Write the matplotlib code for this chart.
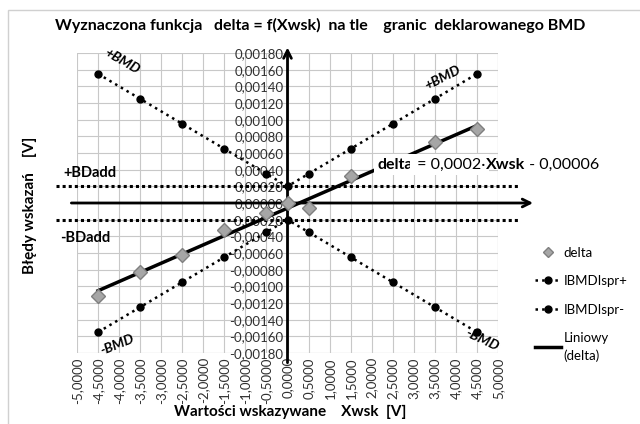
import numpy as np
import matplotlib.pyplot as plt
from matplotlib.lines import Line2D
from matplotlib.patches import Rectangle

plt.rcParams['font.family'] = ['Lato', 'DejaVu Sans']
plt.rcParams['font.size'] = 9

# data
x_bmd = [-4.5, -3.5, -2.5, -1.5, -0.5, 0.0, 0.5, 1.5, 2.5, 3.5, 4.5]
bmd_plus = [0.00155, 0.00125, 0.00095, 0.00065, 0.00035, 0.00020,
            0.00035, 0.00065, 0.00095, 0.00125, 0.00155]
bmd_minus = [-0.00155, -0.00125, -0.00095, -0.00065, -0.00035, -0.00020,
             -0.00035, -0.00065, -0.00095, -0.00125, -0.00155]
x_delta = [-4.5, -3.5, -2.5, -1.5, -0.5, 0.0, 0.5, 1.5, 2.5, 3.5, 4.5]
delta = [-0.00112, -0.00083, -0.00062, -0.00032, -0.00012, 0.00000,
         -0.00006, 0.00032, 0.00045, 0.00073, 0.00089]
bd_add = 0.0002

fig = plt.figure(figsize=(6.4, 4.24), dpi=100)
fig.patches.append(Rectangle((8 / 640, -0.01), 0.99, 1 - 10 / 424 + 0.01,
                             transform=fig.transFigure, fill=False,
                             edgecolor='#d0d0d0', linewidth=1))
ax = fig.add_axes([77 / 640, 71 / 424, 421 / 640, 300 / 424])

ax.set_xlim(-5, 5)
ax.set_ylim(-0.0018, 0.0018)
xt = np.arange(-5, 5.01, 0.5)
yt = np.arange(-0.0018, 0.00181, 0.0002)
ax.set_xticks(xt)
ax.set_xticklabels([f'{v:.4f}'.replace('.', ',') for v in xt], rotation=90)
ax.set_yticks(yt)
ax.set_yticklabels([f'{v:.5f}'.replace('.', ',').replace('-0,00000', '0,00000') for v in yt])
ax.tick_params(length=0, labelsize=9.5, pad=3, labelcolor='#303030')
ax.grid(True, color='#c8c8c8', linewidth=0.8)
ax.set_axisbelow(True)
for s in ['top', 'right', 'bottom']:
    ax.spines[s].set_visible(False)
ax.spines['left'].set_position(('data', 0))
ax.spines['left'].set_visible(False)
# keep grid box edges
ax.axhline(-0.0018, color='#c8c8c8', linewidth=0.8, zorder=0)
ax.axvline(5, color='#c8c8c8', linewidth=0.8, zorder=0)

# axis arrows
ax.annotate('', xy=(0, 0.0019), xytext=(0, -0.00195), annotation_clip=False,
            arrowprops=dict(arrowstyle='->', lw=2, color='black', mutation_scale=14))
ax.annotate('', xy=(5.9, 0), xytext=(-5.2, 0), annotation_clip=False,
            arrowprops=dict(arrowstyle='->', lw=2, color='black', mutation_scale=14))

# BDadd limits
for yv in (bd_add, -bd_add):
    ax.plot([-5.5, 5.5], [yv, yv], color='black', lw=2.2,
            linestyle=(0, (1, 1)), clip_on=False, zorder=3)

ax.plot(x_bmd, bmd_plus, ':', color='black', lw=1.8, marker='o', ms=5, zorder=4)
ax.plot(x_bmd, bmd_minus, ':', color='black', lw=1.8, marker='o', ms=5, zorder=4)

coef = np.polyfit(x_delta, delta, 1)
xl = np.array([min(x_delta), max(x_delta)])
ax.plot(xl, np.polyval(coef, xl), color='black', lw=2.5, zorder=5)
ax.plot(x_delta, delta, linestyle='none', marker='D', ms=7,
        markerfacecolor='#a6a6a6', markeredgecolor='#7f7f7f', zorder=6)

# annotations
bmd_kw = dict(fontsize=10, fontstyle='italic', fontweight='bold', ha='center', va='center')
ax.text(-3.93, 0.00170, '+BMD', rotation=-30, **bmd_kw)
ax.text(3.69, 0.00150, '+BMD', rotation=27, **bmd_kw)
ax.text(-4.05, -0.00170, '-BMD', rotation=22, **bmd_kw)
ax.text(4.62, -0.00164, '-BMD', rotation=-25, **bmd_kw)
ax.text(-5.33, 0.00036, '+BDadd', fontsize=10.5, fontweight='bold', ha='left', va='center')
ax.text(-5.4, -0.00042, '-BDadd', fontsize=10.5, fontweight='bold', ha='left', va='center')

box = dict(facecolor='white', edgecolor='none', pad=2.5)
t1 = ax.text(2.14, 0.00046, 'delta', fontsize=11.5, fontweight='bold', va='center',
             bbox=box, zorder=7)
t2 = ax.annotate(' = 0,0002·', xycoords=t1, xy=(1, 0.5), va='center', fontsize=11.5,
                 bbox=dict(facecolor='white', edgecolor='none', pad=2.5), zorder=7)
t3 = ax.annotate('Xwsk', xycoords=t2, xy=(1, 0.5), va='center', fontsize=11.5,
                 fontweight='bold', zorder=7)
t4 = ax.annotate(' - 0,00006', xycoords=t3, xy=(1, 0.5), va='center', fontsize=11.5,
                 zorder=7, annotation_clip=False)

fig.text(0.5, 1 - 25 / 424, 'Wyznaczona funkcja   delta = f(Xwsk)  na tle    granic  deklarowanego BMD',
         ha='center', va='center', fontsize=11.5, fontweight='bold')
fig.text(290 / 640, 1 - 412 / 424, 'Wartości wskazywane    Xwsk  [V]',
         ha='center', va='center', fontsize=11, fontweight='bold')
fig.text(30 / 640, 1 - 205 / 424, 'Błędy wskazań    [V]', rotation=90,
         ha='center', va='center', fontsize=11, fontweight='bold')

handles = [
    Line2D([], [], linestyle='none', marker='D', ms=5, markerfacecolor='#a6a6a6',
           markeredgecolor='#7f7f7f'),
    Line2D([], [], linestyle=':', color='black', lw=1.8, marker='o', ms=5),
    Line2D([], [], linestyle=':', color='black', lw=1.8, marker='o', ms=5),
    Line2D([], [], color='black', lw=2.5),
]
labels = ['delta', 'IBMDIspr+', 'IBMDIspr-', 'Liniowy\n(delta)']
leg = fig.legend(handles, labels, loc='upper left', bbox_to_anchor=(528 / 640, 1 - 240 / 424),
                 frameon=False, fontsize=9.5, labelspacing=1.25, handlelength=2.0,
                 handletextpad=0.2, borderpad=0)
for t in leg.get_texts():
    t.set_linespacing(1.5)

fig.savefig('out.png', dpi=100)
